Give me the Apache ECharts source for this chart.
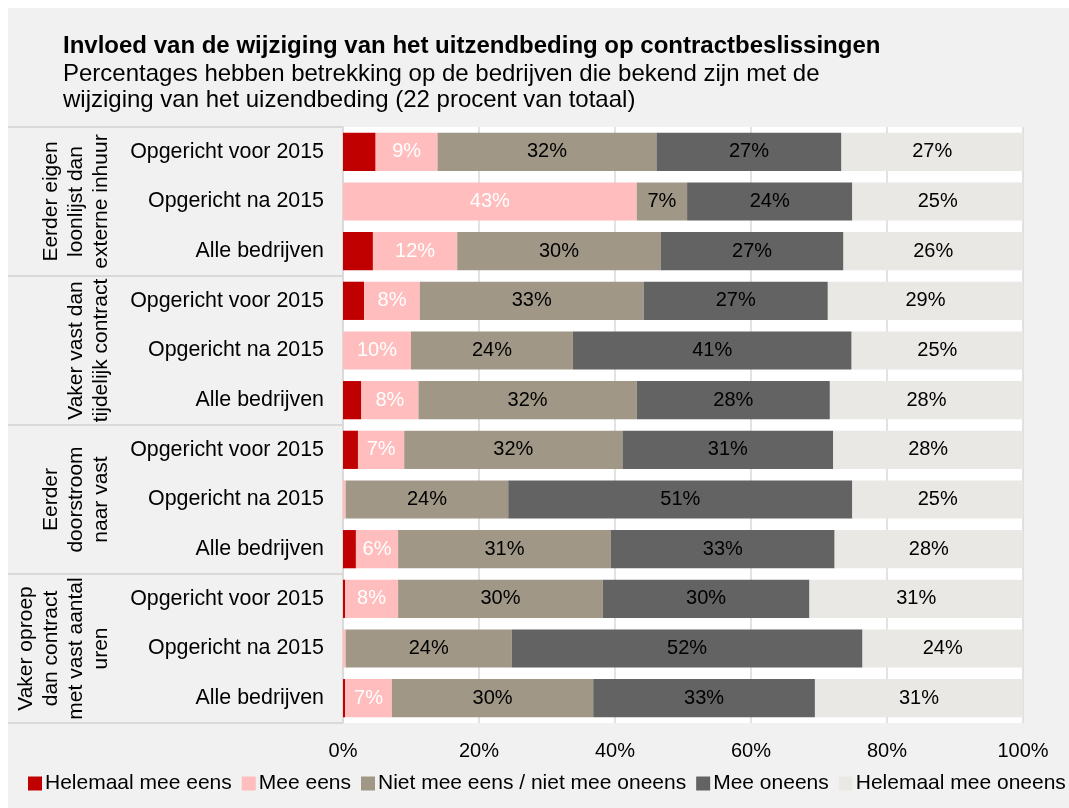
<!DOCTYPE html>
<html>
<head>
<meta charset="utf-8">
<script src="https://cdn.jsdelivr.net/npm/echarts@6/dist/echarts.min.js"></script>
<style>
  html, body { margin: 0; padding: 0; background: #ffffff; }
  #chart { width: 1069px; height: 808px; }
</style>
</head>
<body>
<div id="chart"></div>
<script>
// Rows from top to bottom: three company types within each statement group
const categories = [
  'Opgericht voor 2015', 'Opgericht na 2015', 'Alle bedrijven',
  'Opgericht voor 2015', 'Opgericht na 2015', 'Alle bedrijven',
  'Opgericht voor 2015', 'Opgericht na 2015', 'Alle bedrijven',
  'Opgericht voor 2015', 'Opgericht na 2015', 'Alle bedrijven'
];
const groups = [
  'Eerder eigen\nloonlijst dan\nexterne inhuur',
  'Vaker vast dan\ntijdelijk contract',
  'Eerder\ndoorstroom\nnaar vast',
  'Vaker oproep\ndan contract\nmet vast aantal\nuren'
];
const seriesNames = [
  'Helemaal mee eens', 'Mee eens', 'Niet mee eens / niet mee oneens',
  'Mee oneens', 'Helemaal mee oneens'
];
// Shares in percent per row (labels show them rounded to whole percents)
const helemaalMeeEens   = [4.8, 0, 4.4, 3.1, 0, 2.7, 2.2, 0, 1.9, 0.3, 0, 0.3];
const meeEens           = [9.1, 43.2, 12.4, 8.2, 10.0, 8.4, 6.8, 0.4, 6.2, 7.8, 0.4, 6.9];
const neutraal          = [32.2, 7.4, 29.9, 32.9, 23.8, 32.1, 32.1, 23.9, 31.3, 30.1, 24.4, 29.6];
const meeOneens         = [27.2, 24.3, 26.9, 27.1, 41.0, 28.4, 31.0, 50.6, 32.9, 30.4, 51.6, 32.6];
const helemaalMeeOneens = [26.7, 25.1, 26.4, 28.7, 25.2, 28.4, 27.9, 25.1, 27.7, 31.4, 23.6, 30.6];
const xTicks = [0, 20, 40, 60, 80, 100];

const colors = ['#c00000', '#ffbdbd', '#a09786', '#636363', '#eae8e5'];
const labelColors = [null, '#ffffff', '#000000', '#000000', '#000000'];
const values = [helemaalMeeEens, meeEens, neutraal, meeOneens, helemaalMeeOneens];

const FONT = "'Liberation Sans', Arial, sans-serif";
const GRID = { left: 343, right: 46, top: 127, bottom: 85 };

const chart = echarts.init(document.getElementById('chart'), null, { renderer: 'canvas' });

const series = seriesNames.map((name, i) => ({
  name,
  type: 'bar',
  stack: 'total',
  barCategoryGap: '23%',
  data: values[i],
  itemStyle: { color: colors[i] },
  label: {
    show: labelColors[i] !== null,
    position: 'inside',
    color: labelColors[i] || '#000',
    fontFamily: FONT,
    fontSize: 20,
    formatter: p => (p.value >= 1 ? Math.round(p.value) + '%' : '')
  },
  emphasis: { disabled: true }
}));

chart.setOption({
  animation: false,
  backgroundColor: '#ffffff',
  textStyle: { fontFamily: FONT },
  graphic: [{
    type: 'rect',
    z: -10,
    shape: { x: 8, y: 8, width: 1061, height: 800 },
    style: { fill: '#f1f1f1' }
  }],
  title: {
    left: 58,
    top: 28,
    text: 'Invloed van de wijziging van het uitzendbeding op contractbeslissingen',
    subtext: 'Percentages hebben betrekking op de bedrijven die bekend zijn met de\nwijziging van het uizendbeding (22 procent van totaal)',
    itemGap: 1,
    textStyle: { fontFamily: FONT, fontSize: 24, fontWeight: 'bold', color: '#000000', lineHeight: 27 },
    subtextStyle: { fontFamily: FONT, fontSize: 24, color: '#000000', lineHeight: 26 }
  },
  legend: {
    bottom: 9,
    left: 23,
    width: 1044,
    itemWidth: 14,
    itemHeight: 14,
    itemGap: 10,
    icon: 'rect',
    data: seriesNames,
    textStyle: { fontFamily: FONT, fontSize: 21, color: '#000000', padding: [0, 0, 0, -2] }
  },
  grid: Object.assign({ show: true, backgroundColor: '#ffffff', borderWidth: 0 }, GRID),
  xAxis: {
    type: 'value',
    min: xTicks[0],
    max: xTicks[xTicks.length - 1],
    interval: xTicks[1] - xTicks[0],
    axisLine: { show: false },
    axisTick: { show: false },
    splitLine: { show: true, lineStyle: { color: '#d9d9d9', width: 1.5 } },
    axisLabel: { formatter: '{value}%', fontFamily: FONT, fontSize: 20, color: '#000000', margin: 18 }
  },
  yAxis: [{
    type: 'category',
    inverse: true,
    data: categories,
    axisLine: { show: true, lineStyle: { color: '#d9d9d9', width: 1.5 } },
    axisTick: { show: false },
    axisLabel: { interval: 0, fontFamily: FONT, fontSize: 21.4, color: '#000000', margin: 19 }
  }, {
    type: 'category',
    inverse: true,
    position: 'left',
    data: groups,
    axisLine: { show: false },
    axisTick: { show: true, length: 335, lineStyle: { color: '#d9d9d9', width: 2 } },
    axisLabel: {
      interval: 0,
      rotate: 90,
      fontFamily: FONT,
      fontSize: 21,
      lineHeight: 25,
      color: '#000000',
      margin: 229,
      align: 'center'
    }
  }],
  series
});
</script>
</body>
</html>
